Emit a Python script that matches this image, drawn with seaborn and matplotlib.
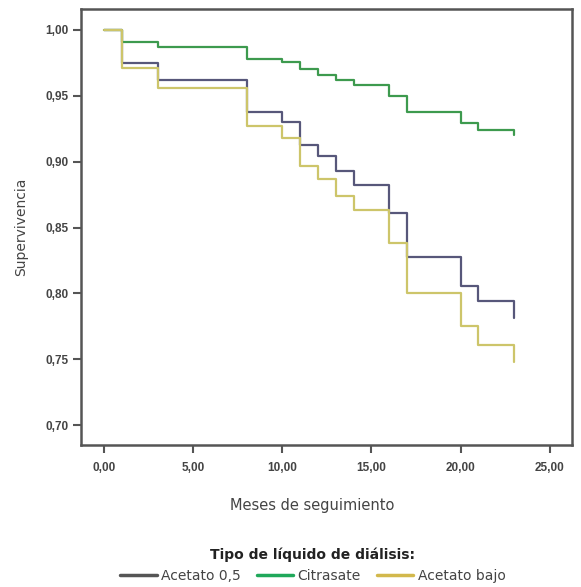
import numpy as np
import pandas as pd
import matplotlib
matplotlib.use('Agg')
import matplotlib.pyplot as plt
import seaborn as sns
from matplotlib.lines import Line2D

# Kaplan-Meier curves
meses = [0, 1, 3, 8, 10, 11, 12, 13, 14, 16, 17, 20, 21, 23]
acetato_05 = [1.000, 0.975, 0.962, 0.938, 0.930, 0.913, 0.904, 0.893, 0.882,
              0.861, 0.828, 0.806, 0.794, 0.781]
citrasate = [1.000, 0.991, 0.987, 0.978, 0.976, 0.970, 0.966, 0.962, 0.958,
             0.950, 0.938, 0.929, 0.924, 0.920]
acetato_bajo = [1.000, 0.971, 0.956, 0.927, 0.918, 0.897, 0.887, 0.874, 0.863,
                0.838, 0.800, 0.775, 0.761, 0.748]
grupos = ['Acetato 0,5', 'Citrasate', 'Acetato bajo']
yticks = [0.70, 0.75, 0.80, 0.85, 0.90, 0.95, 1.00]
xticks = [0, 5, 10, 15, 20, 25]

line_colors = ['#57577a', '#3d9a4e', '#cdc56a']
legend_colors = ['#555555', '#1fa85a', '#d2b84c']

df = pd.concat([
    pd.DataFrame({'Meses': meses, 'Supervivencia': acetato_05, 'Grupo': grupos[0]}),
    pd.DataFrame({'Meses': meses, 'Supervivencia': citrasate, 'Grupo': grupos[1]}),
    pd.DataFrame({'Meses': meses, 'Supervivencia': acetato_bajo, 'Grupo': grupos[2]}),
])

sns.set_style('white')
plt.rcParams['font.family'] = ['Liberation Sans', 'DejaVu Sans']

fig = plt.figure(figsize=(5.81, 5.87), dpi=100)
ax = fig.add_axes([0.139, 0.242, 0.846, 0.743])

sns.lineplot(data=df, x='Meses', y='Supervivencia', hue='Grupo',
             palette=dict(zip(grupos, line_colors)), estimator=None,
             drawstyle='steps-post', linewidth=1.6, legend=False, ax=ax)

ax.set_xlim(-1.31, 26.27)
ax.set_ylim(0.685, 1.016)
ax.set_xticks(xticks)
ax.set_yticks(yticks)
ax.set_xticklabels([f'{v:.2f}'.replace('.', ',') for v in xticks],
                   fontsize=8.5, fontweight='bold', color='#444444')
ax.set_yticklabels([f'{v:.2f}'.replace('.', ',') for v in yticks],
                   fontsize=8.5, fontweight='bold', color='#444444')
ax.tick_params(axis='both', direction='out', length=6, width=1.5,
               color='#555555', left=True, bottom=True, pad=3)
ax.tick_params(axis='x', pad=6)
for s in ax.spines.values():
    s.set_color('#555555')
    s.set_linewidth(1.8)

ax.set_xlabel('Meses de seguimiento', fontsize=10.5, color='#444444',
              family='DejaVu Sans')
ax.set_ylabel('Supervivencia', fontsize=10, color='#444444',
              family='DejaVu Sans')
ax.xaxis.set_label_coords((312 - 81) / 491, -0.122)
ax.yaxis.set_label_coords(-0.108, 0.5)

handles = [Line2D([0], [0], color=c, lw=2.5) for c in legend_colors]
leg = fig.legend(handles, grupos, loc='lower center', bbox_to_anchor=(313 / 581, -0.012),
                 ncol=3, frameon=False, title='Tipo de líquido de diálisis:',
                 prop={'family': 'DejaVu Sans', 'size': 10},
                 handlelength=2.6, columnspacing=1.2, handletextpad=0.3,
                 borderaxespad=0.4)
leg.get_title().set_fontweight('bold')
leg.get_title().set_fontsize(10)
leg.get_title().set_family('DejaVu Sans')
leg.get_title().set_color('#222222')
for t in leg.get_texts():
    t.set_color('#444444')

fig.savefig('out.png', dpi=100)
